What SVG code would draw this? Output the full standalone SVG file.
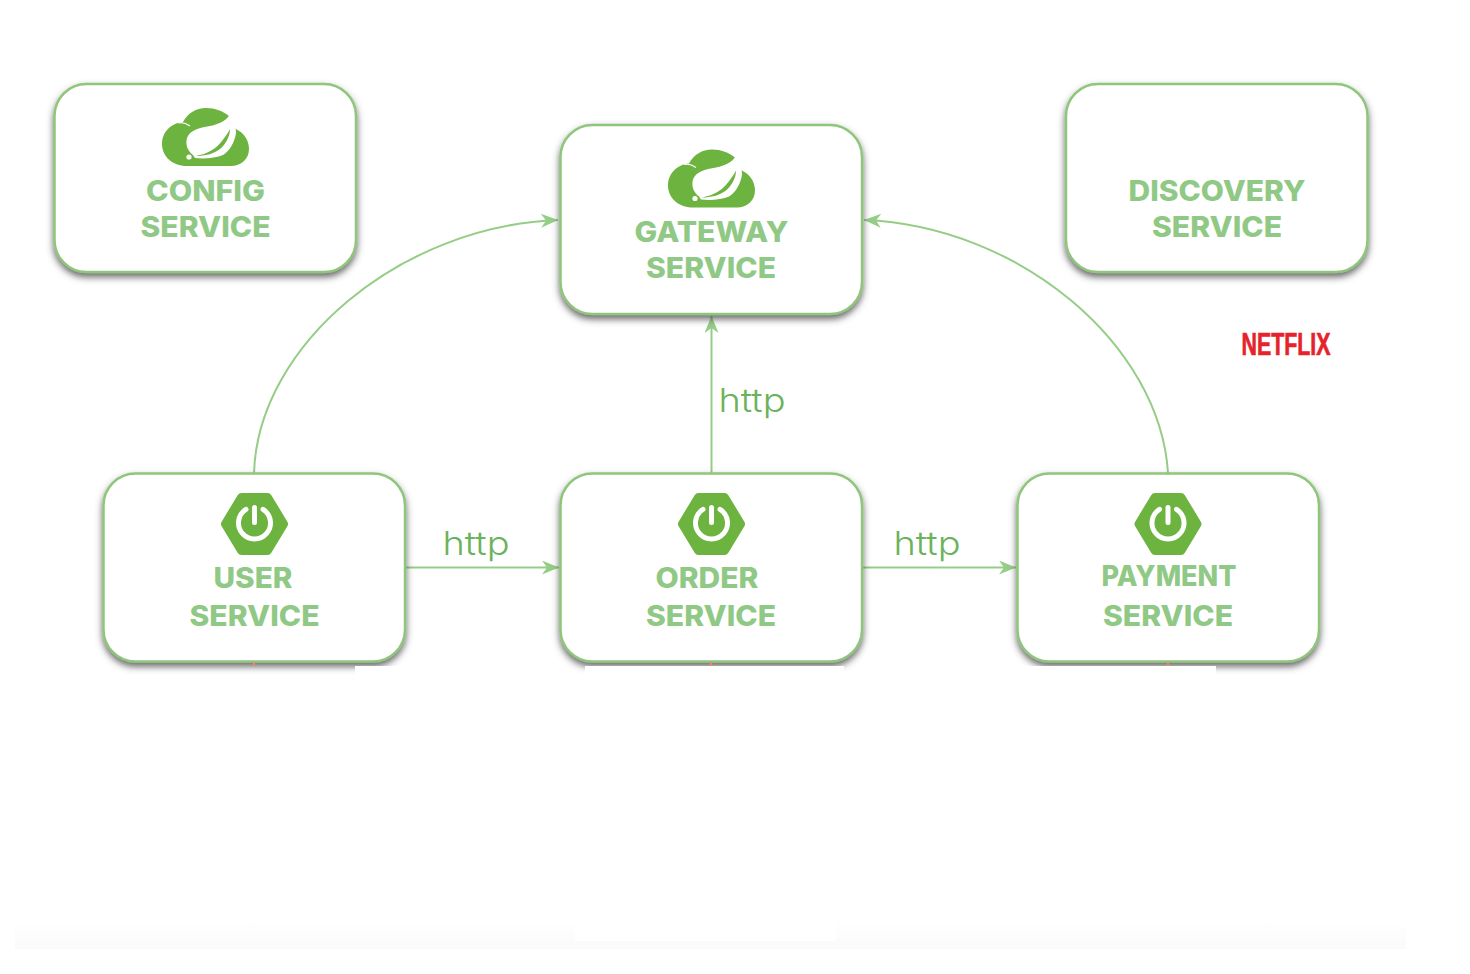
<svg xmlns="http://www.w3.org/2000/svg" width="1470" height="974" viewBox="0 0 1470 974">
<style>
.box{fill:#fff;stroke:#8fc67c;stroke-width:2.5;filter:url(#sh)}
.lbl{font-family:"Inter","Open Sans","Liberation Sans",sans-serif;font-weight:800;font-size:28px;fill:#90c985;text-anchor:middle}
.http{font-family:"Inter","Open Sans","Liberation Sans",sans-serif;font-weight:300;font-size:33px;fill:#6cb25c}
.conn{fill:none;stroke:#95cd86;stroke-width:2;marker-end:url(#arr)}
.tick{fill:#e98a70}
.mask{fill:#fff}
</style>
<defs>
<filter id="sh" x="-10%" y="-10%" width="120%" height="125%">
<feDropShadow dx="0" dy="4" stdDeviation="3.5" flood-color="#444" flood-opacity="0.8"/>
</filter>
<marker id="arr" markerUnits="userSpaceOnUse" markerWidth="20" markerHeight="16" refX="18" refY="7" orient="auto">
<path d="M1 0 L18 7 L1 14 L6 7 Z" fill="#95cd86"/>
</marker>
<linearGradient id="band" x1="0" y1="0" x2="0" y2="1">
<stop offset="0" stop-color="#fff"/><stop offset="1" stop-color="#fafafa"/>
</linearGradient>
<symbol id="cloud" overflow="visible">
<path fill="#6db33f" d="M25 58 C10 58 0 48 0 36 C0 24 9 15 21 14 C26 5 34 0 44 0 C53 0 61 3 67 8 L74 21 C82 25 87 32 87 41 C87 51 79 58 69 58 Z"/>
<path fill="none" stroke="#fff" stroke-width="1.2" d="M16 15 C20 14 24 15 28 18"/>
<path fill="#fff" d="M69 4 C66 12 58 16 48 18 C37 20 28 22 25 30 C23 37 26 43 31 47 L33 50 C43 51 54 50 61 47 C68 43 73 33 74 25 C74 17 72 9 69 4 Z"/>
<path fill="#6db33f" d="M34 48 C45 46 54 41 60 33 C63 29 66 25 68 21 C68 28 64 36 58 41 C51 46 43 48 34 48 Z"/>
<circle cx="27" cy="49" r="2.6" fill="#fff"/>
</symbol>
<symbol id="power" overflow="visible">
<path fill="#6db33f" stroke="#6db33f" stroke-width="9" stroke-linejoin="round" d="M-29 0 L-13 -26.500 L13 -26.500 L29 0 L13 26.500 L-13 26.500 Z"/>
<path fill="none" stroke="#fff" stroke-width="5" stroke-linecap="round" d="M-8.500 -14.600 A16 16 0 1 0 8.500 -14.600"/>
<path fill="none" stroke="#fff" stroke-width="5" stroke-linecap="round" d="M0 -16.500 L0 -1.500"/>
</symbol>
</defs>

<rect width="1470" height="974" fill="#fff"/>
<g id="background">
<rect x="15" y="920" width="1391" height="29" fill="url(#band)"/>
<rect class="mask" x="575" y="912" width="261" height="29"/>
</g>

<g id="connectors">
<path class="conn" d="M254 473 C258 345 400 226 558 220"/>
<path class="conn" d="M1168 473 C1160 345 1020 226 864 220"/>
<path class="conn" d="M711.500 473 L711.500 316"/>
<path class="conn" d="M406 567.500 L559 567.500"/>
<path class="conn" d="M863 567.500 L1016 567.500"/>
</g>

<g id="config-service">
<rect class="box" x="54.500" y="84" width="301.500" height="188" rx="32"/>
<use href="#cloud" x="162" y="108"/>
<text class="lbl" x="205.500" y="201" textLength="119" lengthAdjust="spacingAndGlyphs">CONFIG</text>
<text class="lbl" x="205.500" y="237" textLength="130" lengthAdjust="spacingAndGlyphs">SERVICE</text>
</g>
<g id="gateway-service">
<rect class="box" x="560.500" y="125" width="301.500" height="189" rx="32"/>
<use href="#cloud" x="668" y="149.500"/>
<text class="lbl" x="711.500" y="242" textLength="154" lengthAdjust="spacingAndGlyphs">GATEWAY</text>
<text class="lbl" x="711" y="278" textLength="130" lengthAdjust="spacingAndGlyphs">SERVICE</text>
</g>
<g id="discovery-service">
<rect class="box" x="1066" y="84" width="301.500" height="188" rx="32"/>
<text class="lbl" x="1217" y="201" textLength="177" lengthAdjust="spacingAndGlyphs">DISCOVERY</text>
<text class="lbl" x="1217" y="237" textLength="130" lengthAdjust="spacingAndGlyphs">SERVICE</text>
</g>
<g id="user-service">
<rect class="box" x="103.500" y="473.500" width="301.500" height="188" rx="32"/>
<use href="#power" x="254.500" y="524"/>
<text class="lbl" x="253" y="588" textLength="79" lengthAdjust="spacingAndGlyphs">USER</text>
<text class="lbl" x="254.500" y="626" textLength="130" lengthAdjust="spacingAndGlyphs">SERVICE</text>
<rect class="tick" x="253" y="662" width="2" height="4"/>
<rect class="mask" x="355" y="666" width="70" height="12"/>
</g>
<g id="order-service">
<rect class="box" x="560.500" y="473.500" width="301.500" height="188" rx="32"/>
<use href="#power" x="711.500" y="524"/>
<text class="lbl" x="707" y="588" textLength="103" lengthAdjust="spacingAndGlyphs">ORDER</text>
<text class="lbl" x="711" y="626" textLength="130" lengthAdjust="spacingAndGlyphs">SERVICE</text>
<rect class="tick" x="710" y="662" width="2" height="4"/>
<rect class="mask" x="585" y="666" width="259" height="12"/>
</g>
<g id="payment-service">
<rect class="box" x="1017.500" y="473.500" width="301.500" height="188" rx="32"/>
<use href="#power" x="1168" y="524"/>
<text class="lbl" x="1169" y="586" textLength="135" lengthAdjust="spacingAndGlyphs">PAYMENT</text>
<text class="lbl" x="1168" y="626" textLength="130" lengthAdjust="spacingAndGlyphs">SERVICE</text>
<rect class="tick" x="1167" y="662" width="2" height="4"/>
<rect class="mask" x="1010" y="666" width="206" height="12"/>
</g>

<g id="labels">
<text class="http" x="442.500" y="555" textLength="67" lengthAdjust="spacingAndGlyphs">http</text>
<text class="http" x="893.500" y="555" textLength="67" lengthAdjust="spacingAndGlyphs">http</text>
<text class="http" x="718.500" y="412" textLength="67" lengthAdjust="spacingAndGlyphs">http</text>
</g>
<g id="netflix-logo">
<text x="1241.500" y="355" font-family="'Liberation Sans',Arial,sans-serif" font-weight="700" font-size="31" fill="#e5232b" stroke="#e5232b" stroke-width="0.7" textLength="89" lengthAdjust="spacingAndGlyphs">NETFLIX</text>
</g>
</svg>
